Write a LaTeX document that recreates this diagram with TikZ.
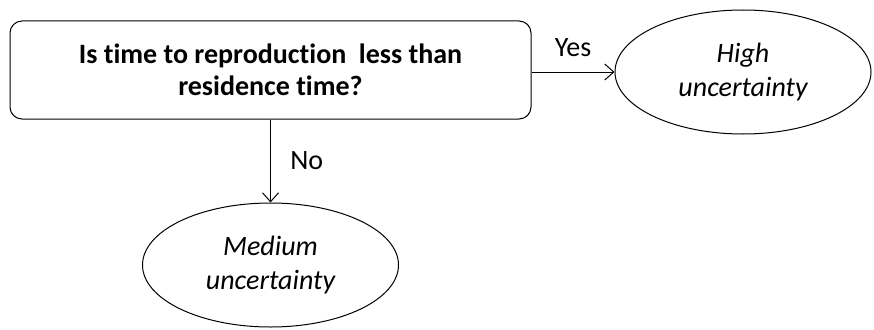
\documentclass[tikz,border=0pt]{standalone}
\usepackage{fontspec}
\setmainfont[Ligatures=NoCommon]{Carlito}
\usetikzlibrary{shapes.geometric,arrows.meta,positioning}

\tikzset{
  tanya/.style={draw, line width=1pt, rounded corners=12pt, minimum width=521pt, minimum height=98pt,
    align=center, font=\fontsize{28}{32}\selectfont\bfseries},
  hasil/.style={draw, line width=1pt, ellipse, minimum width=256pt, minimum height=124pt, inner sep=0pt,
    align=center, font=\fontsize{28}{34}\selectfont\itshape},
  panah/.style={line width=1pt, -{Straight Barb[length=9pt,width=16pt]}},
  ket/.style={font=\fontsize{28}{30}\selectfont}
}

\begin{document}
\begin{tikzpicture}[x=1pt,y=-1pt]

      % batas gambar
      \useasboundingbox (0,0) rectangle (874,329);

      % kotak pertanyaan
      \node[tanya] (soal) at (270.5,70) {Is time to reproduction\ \ less than\\residence time?};

      % dua elips hasil
      \node[hasil] (tinggi) at (743,72) {High\\uncertainty};
      \node[hasil] (sedang) at (270.5,265) {Medium\\uncertainty};

      % panah Yes dan No
      \draw[panah] (soal.east |- tinggi.west) -- node[ket, above=11pt] {Yes} (tinggi.west);
      \draw[panah] (soal) -- node[ket, right=16pt] {No} (sedang);
    \end{tikzpicture}
\end{document}
